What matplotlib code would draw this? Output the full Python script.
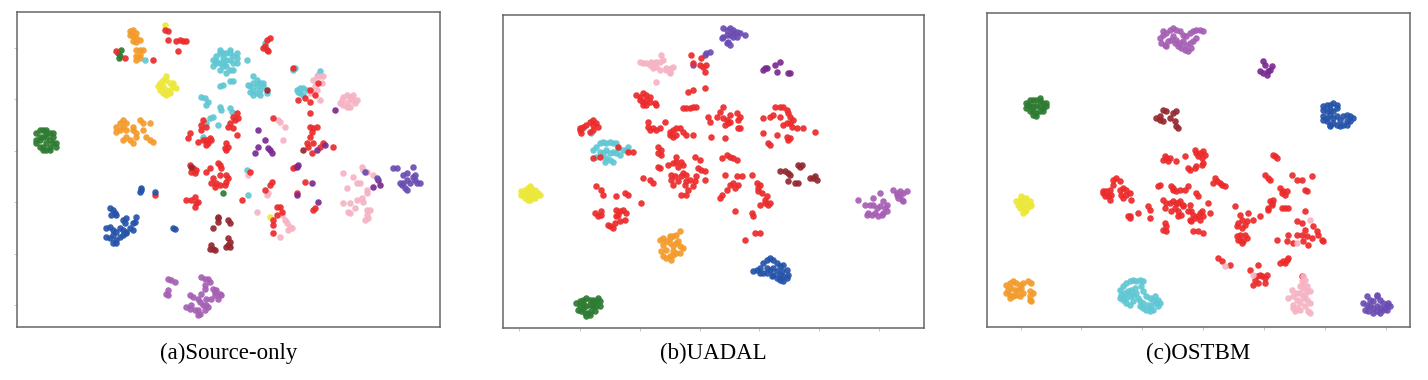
import matplotlib.pyplot as plt

# t-SNE embeddings (arbitrary units, y grows downward)
colors = {
    'green': '#2e7b32', 'orange': '#f39a2b', 'yellow': '#ece83a',
    'cyan': '#5fc7d3', 'red': '#ec2a2b', 'pink': '#f6b3c3',
    'violet': '#a55fb4', 'dpurple': '#7a2a90', 'indigo': '#6a4db3',
    'blue': '#2453a9', 'brown': '#94282f',
}
titles = ['(a)Source-only', '(b)UADAL', '(c)OSTBM']

# ---------------- (a) Source-only ----------------
a_green = [(11,40),(12,39),(13,39),(14,39),(15,40),(16,41),(11,42),(12,42),(13,41),(14,41),
           (15,42),(16,43),(17,44),(11,43),(12,44),(13,44),(14,43),(15,44),(13,45),(14,45),
           (15,45),(17,43),(12,41),(16,40),(14,40),
           (35.5,16),(36.5,15),(36,17),(35.8,17.5),(67,58)]
a_orange = [(39,9.5),(40,9),(41,10),(40,11),(39,10.5),(41,11.5),(40,12.5),(41,12.8),(42,12),
            (41,15),(42,15),(43,15),(41,17),(42,17.5),(41,18),(42,16.5),
            (35,38),(36,37),(37,36),(38,37),(37,38),(38,39),(36,39),(35,39.5),(42,36),(43,37),
            (45,37),(43,39),(41,40),(40,39),(41,41),(38,41),(37,42),(39,42),(40,43),(44,41),
            (45,42),(46,42.5),(40,38)]
a_yellow = [(49.5,7.5),(48,25),(49,24),(50,24),(51,25),(52,26),(49,26),(50,27),(51,27),(48,27),
            (49,28),(50,28.5),(52,25),(50,23),(47.5,26),(51,28),(53,26.5),(81,65)]
a_cyan = [(64,18),(65,17),(66,16),(67,16),(68,16),(69,16),(70,17),(71,16),(65,19),(66,19),
          (67,19),(68,18),(69,18),(70,19),(71,19),(64,20),(66,21),(67,20),(68,20),(69,21),
          (70,21),(74,18),(66,15),(69,15),(71,17.5),(65,18.5),(68,22),(67,17.5),
          (66,26),(67,25.5),(69,24.5),(70,24.5),
          (75,26),(76,25),(77,24),(77,26),(78,27),(79,26),(76,27),(77,28),(78,25),(79,25),
          (75,27.5),(76,28.5),(78,28.5),(80,28),(76,23),(74.5,25.5),(79.5,13),
          (88,21),(88.5,20.5),(89,27),(90,26.5),(91,26.5),(92,27),(90,28),(91,28.5),(89.5,27.5),
          (96,21.5),(95.5,22.5),
          (60.5,29),(61.5,29.5),(62,31.5),(62.5,30.5),(66,32),(66.5,33),(69,32.5),(69.5,33.5),
          (64,35),(63,35.5),(65.5,37.5),(62,37),(61,41),(74.5,58.5),(74,51),(43.5,18)]
a_red = [(35,15.5),(37.5,17.5),(46,18),(49.5,9),(50.5,9.5),(50.5,12),(53,12.5),(54,12),
         (55,12.5),(56,12.5),(53.5,15.5),(80,12),(81,11.5),(79.5,14),(79,14.5),(80,15),
         (80.5,15.5),(88,20.5),(89.5,30),(91.5,29.5),(93,30.5),(95.5,25),(93,27),(94.5,28.5),
         (61,36),(60.5,37.5),(62,38),(60.5,39),(70,35),(71,34),(70.5,36),(71.5,35.5),(69,37),
         (68.5,38),(70,38.5),(71,40.5),(57,40),(56.5,41.5),(59.5,42.5),(61,42),(62,42),
         (63,41.5),(62.5,43),(62,43.5),(63.5,42),(68,43),(68.5,44),(68,45),(67.5,44.5),
         (82,35.5),(93,34),(93,38),(94,38.5),(95,38),(93.5,39.5),(93,41),(92,43),(92.5,44),
         (94,43),(96,44),(97,43),(100,44),(93.5,46),
         (57,49.5),(58,50.5),(57.5,51.5),(58.5,52),(59,51),(62,51.5),(63,50.5),(65.5,49),
         (66,49.5),(66.5,50.5),(64,53.5),(63.5,55),(66,52.5),(68,52.5),(68.5,53.5),(68,54.5),
         (65,55),(66,55.5),(67.5,55.5),(64.5,56),(56,60),(57.5,60),(58.5,59),(59,61),
         (59.5,60.5),(58.5,62),(72.5,60),(75,51.5),(81.5,54.5),(81,55.5),(79.5,57),
         (83,62),(84,62),(84.5,63.5),(83,64.5),(82,66),(82,67.5),(82,70),(88.5,50),(88,50.5),
         (91.5,54.5),(89,58),(94.5,62.5),(94,63),(46.5,58.5)]
a_pink = [(94,24),(95,23),(96,23),(97,23),(96.5,25),(94.5,26),(93,28),(95,27),(96,30),(93.5,27.5),
          (103,29),(104,28.5),(105,29),(106,30),(106.5,31),(105,32),(104,32),(103,31.5),(102,31),
          (106,28.5),(107,30),(102.5,30),(104.5,30.5),(83.5,36),(84,36.5),(85.5,38),(85,42),
          (74.5,52.5),(77,63.5),(84.5,64.5),(85.5,66),(86,67),(87,68),(87.5,68.5),(86.5,69),
          (84,71),(80.5,58),(80,58.5),
          (103,52),(104,56.5),(108.5,50),(109,51),(110,51.5),(106,53),(107,55),(108,55),
          (110,57),(110,58),(103,61),(105,61),(106.5,62.5),(107,60),(108.5,59.5),(109,60.5),
          (105,64),(104.5,63.5),(110,63),(111,63),(110.5,65.5),(109.5,66),(110,64.5),(112,52.5)]
a_dpurple = [(77.5,39),(79.5,42),(77.5,44),(76.5,46),(81,45),(81.5,46),(80.5,44.5),
             (89,50),(89.5,49.5),(93.5,55),(89,58.5),(95.5,60.5),(97.5,43.5),(95,45),
             (100.5,33),(112,56),(113.5,54),(114,55.5)]
a_indigo = [(118,50.5),(119,50.5),(124,50),(121,52.5),(122,52),(124.5,52.5),(120,55),(121,55),
            (122,54),(123,55),(124.5,54),(125,55),(126,55),(121.5,56.5),(122,57),(120.5,55.5),
            (124,53),(113,53.5),(109.5,51.5)]
a_blue = [(33,62.5),(34,63),(34.5,64),(35,64.5),(33.5,64.5),(37,66),(38,65.5),(37.5,67),(41,65),
          (40.5,66.5),(40,67),(32,68.5),(33,68),(34,69),(35,69.5),(36,68.5),(37,69),(38,69.5),
          (39,68.5),(40,69),(32,71),(33,71.5),(34,70.5),(35,72),(36,71),(37,70.5),(34,73),
          (35,73),(38,70),(42,57.5),(42.5,56.5),(42.3,57),(46.5,57.5),(52,68.5),(52.5,68.8)]
a_brown = [(65.5,65.5),(65.5,66.5),(64,68.5),(68.5,66),(69,67),(63.5,73.5),(64,74.5),(68.5,71.5),
           (68.5,73.5),(69,74),(68,74),(63,74.5),(64.5,75),(69,72.5),(65.5,65),(80,27),(91,45),
           (57.5,50)]
a_violet = [(50.5,83.5),(51.5,84),(52.5,84.5),(50.5,87),(50,88),(50.5,88.5),(60.5,83),(61.5,83.5),
            (62.5,83.5),(63,84.5),(61.5,85.5),(61.5,86.5),(64,86.5),(65,87),(66,88),(64.5,88.5),
            (57,88.5),(58,89),(60.5,88),(59.5,89.5),(63.5,89.5),(65.5,89.5),(62,89.5),(60,90.5),
            (61,91.5),(62,91.5),(57.5,91.5),(56,92),(57,92.5),(58.5,93),(59.5,93),(61.5,93),
            (62.5,92),(60,94),(59.5,94.5),(64.5,87.5),(66.5,88.5)]

# ---------------- (b) UADAL ----------------
b_indigo = [(73,8.5),(74,9),(75,8.5),(76,9),(77,9.5),(78,10),(74,10.5),(75,10.5),(76,11),(77,11),
            (73,11),(72.5,11.5),(74.5,12.5),(75,13.5),(74,13),(79.5,10.5),(76,10),
            (67.5,16.5),(69,15.5),(68,16),(64,19.5)]
b_dpurple = [(85,21),(85.5,20.5),(86,20.5),(88.5,19.5),(90,18.5),(89,21.5),(92.5,22),(93,22)]
b_pink = [(48,18.5),(49,19),(50,19),(51,19.5),(52,19),(53,18.5),(54,18.5),(55,18),(54.5,16.5),
          (53,20),(54,21),(56,20.5),(57,21.5),(57.5,20.5),(58,20),(57,22),(53,24.5),(52,20.5),
          (56,21),(51.5,18.5)]
b_red = [(63.5,16.5),(64,19),(66,19.5),(67,20),(67.5,21.5),(68,19.5),(66.5,17.5),
         (62.5,27.5),(64,27),(67.5,26.5),
         (47,28.5),(48,29),(49,28),(50,28.5),(51,29),(48,30),(49,30.5),(50,30),(51,30.5),
         (49,31.5),(50,31.5),(52.5,31),(53,31.5),
         (61,32.5),(62,32.5),(63,32.5),(64,32),(65,32),
         (73,32),(72,33.5),(71,35),(68.5,35),(69,36.5),(73,35.5),(74,36),(75,34.5),(77,34),
         (78,35),(73.5,37.5),(74.5,37),(75,36.5),(77.5,36),(77.5,38.5),(78,38.5),(69.5,41),
         (73.5,41.5),
         (88.5,32),(90,32),(91,32),(92,33),(88,34.5),(90,35),(92.5,34),(93,35),(85,35.5),
         (87,35),(94,36),(92,37),(93,37),(91,37.5),(93.5,38),(95,38.5),(97,38.5),(100.5,39.5),
         (85,40),(89,40.5),(92,41),(93,41.5),(92.5,42),(86.5,43),(87,43.5),
         (30,38.5),(31,38),(32,37.5),(33,36.5),(34,36),(34,37.5),(35,37),(35.5,38),(34,39),
         (33,39.5),(30,39),(30.5,40),
         (34,47.5),(36,47),(41.5,44),(44.5,45.5),(46,45.5),
         (50.5,36.5),(50.5,38),(51,39),(52,38.5),(53,39),(54,38.5),(55.5,36.5),(57,39.5),
         (58,39),(59,38.5),(60,38.5),(57,40.5),(58,41),(59,40.5),(61,39.5),(62,40.5),(64,40.5),
         (53.5,44),(54.5,45),(53.5,46),(54.5,46.5),(53.5,50),(54,50.5),(56.5,49.5),(58,49),
         (59,47),(59,48.5),(59.5,50),(60.5,48.5),(61,49.5),(57.5,52.5),(58.5,53),(57.5,54),
         (58,55.5),(59.5,54.5),(60.5,53),(61,52),(62,52.5),(62,54.5),(63,54),(61.5,55.5),
         (62.5,57),(64,56),(64.5,54.5),(65,53),(66.5,51),(67.5,51.5),(66,48),(64.5,47),
         (65.5,50.5),(67.5,54),(60.5,58.5),(62,58.5),(49,53.5),(51,54),(52,55),
         (72.5,47.5),(74,46.5),(75,47),(76,47.5),(77,48),(73.5,52.5),(75,55.5),(76,55),
         (77,53),(77.5,55.5),(74,57),(72.5,58.5),(72,59.5),(76.5,56.5),(78.5,53),
         (81.5,52.5),(83,55),(83.5,56.5),(84,55.5),(83.5,57.5),(84.5,58),(86,59),(85.5,61),
         (84,61.5),(86.5,61.5),(87,61),(76.5,63.5),(81.5,64),(82,65),(79.5,72),(82.5,70),
         (84,70),(85.5,60),
         (35,56),(36.5,57),(37,58.5),(41,59),(43.5,58),(44.5,58.5),(48.5,61),(41,63),(42,63.5),
         (43,63),(44,64),(41.5,64.5),(34.5,64),(36.5,63.5),(35.5,65),(36.5,64.5),(43.5,66),
         (42,66.5),(40.5,67),(39,68),(40,68.5),(38.5,67.5),(41,65)]
b_cyan = [(31,38.5),(33.5,40),
          (34,45),(35,44),(36,43),(37,42.5),(38,43),(39,42.5),(40,43),(41,43),(41.5,44.5),
          (36,45.5),(37,46),(38,45),(39,46),(40,45.5),(41,46),(42,46.5),(35,47),(38,47.5),
          (39,48),(40,48.5),(37.5,48.5),(43,45),(44,45),(44.5,44)]
b_brown = [(90,51.5),(91.5,51.5),(92.5,52),(93,52.5),(95.5,49.5),(96,50),(96.5,49.5),(92.5,54.5),
           (94.5,55),(95.5,55),(99,53.5),(100,53.5),(100.5,53),(101,54)]
b_orange = [(54,72),(55,71.5),(56,72.5),(57,71.5),(58,71),(59,70.5),(60,69.5),(55,73.5),(57,73),
            (58,74),(59,73),(60,74),(54.5,75.5),(56,75),(58,75.5),(60,76),(61,74.5),(55,77),
            (56,77.5),(57,77),(58,76.5),(59,76),(57.5,78),(57,71),(59.5,72.5)]
b_blue = [(82,81.5),(83,81),(84,80.5),(85,79),(86,78),(87,77.5),(88,78),(89,79),(86,80.5),(87,81),
          (88,80.5),(89,81.5),(90,80),(91,79.5),(90.5,81.5),(92,81),(92.5,82.5),(91,83),(89,83.5),
          (90,84),(91,84.5),(88,82.5),(86,82),(85,82),(84,82),(87.5,83),(92,83.5),(90,82.5)]
b_violet = [(113.5,60),(115.5,61.5),(117,61.5),(118,59.5),(120,58),(121,60.5),(118,61.5),
            (119,62.5),(120,62),(121.5,62.5),(122,61.5),(121,64),(122,63.5),(116.5,64),
            (117.5,64.5),(118.5,64),(119.5,65),(120.5,64.5),(124,57),(125,58),(126,58.5),
            (127,58),(128,57.5),(125.5,59.5),(126.5,60),(127,60.5),(126,57.5),(125,58.5),(116,64.5)]
b_yellow = [(12.5,57.5),(13.5,57),(14.5,56.5),(15.5,56.5),(16.5,57),(17.5,58),(18,58.5),(13,58.5),
            (14,58),(15,58),(16,58),(17,58.5),(13.5,59.5),(14.5,59),(15.5,59.5),(16.5,59.5),
            (15,60),(15,56),(12.5,58.5),(14.5,60)]
b_green = [(29,91),(30,90.5),(31,90),(32,89.5),(33,90),(34,90),(35,90.5),(36,90.5),(30,92),
           (31,92.5),(32,92),(33,91.5),(34,92),(35,92),(29.5,93),(30.5,93.5),(31.5,94),(32.5,94),
           (33.5,93.5),(34.5,93.5),(32,95),(33,94.5),(35.5,89.5),(36,92),(31,91),(34,91)]

# ---------------- (c) OSTBM ----------------
c_violet = [(60,11.5),(61,10.5),(62,10),(63,9),(64,8.5),(65,9),(66,9.5),(67,10.5),(68,11),(69,10),
            (70,9.5),(71,9),(72,9),(73,9.5),(60.5,13),(61.5,13.5),(62.5,12.5),(63.5,12),(64,11),
            (65,12),(66,13),(67,12.5),(68,13.5),(69,13),(70,12.5),(71,11.5),(62,14),(64.5,13),
            (65.5,14),(66.5,14.5),(67.5,15),(69.5,14.5),(68.5,15.5),(61,9.5)]
c_dpurple = [(91,18.5),(91.5,19.5),(93.5,20),(93,21),(90,21.5),(91,22),(92,22.5),(92.5,21.5)]
c_green = [(20,31),(21,30),(22,30),(23,30),(24,30.5),(25,31),(26,32),(20,32.5),(21,32),(22,32),
           (23,32),(24,32),(25,32.5),(21,33.5),(22,33.5),(23,34),(24,33.5),(25,33.5),(22,34.5),
           (23,34.8),(20.5,31.5),(26,31),(24,29.5)]
c_brown = [(59,35.5),(60,35),(61,33),(62,33.5),(64,34),(65,33.5),(63,35.5),(64.5,36.5),(61,36.5),
           (65,38),(65.5,38.5),(60,36)]
c_blue = [(109,32),(110,31.5),(111,31.5),(112,31),(113,31.5),(109,33),(110,33.5),(111,33),
          (112,33.5),(113,32.5),(109,35),(110,35.5),(111,34.5),(112,35.5),(113,35),(114,36),
          (115,35),(116,34.5),(117,35),(118,35.5),(116,36.5),(110,36.5),(111,37.5),(112,37),
          (113,37.5),(114,38),(115,37.5),(116,37.5),(109,36),(117,36.5),(111,38)]
c_yellow = [(17,60.5),(18,60),(19,59.5),(20,59.5),(21,60.5),(21.5,61.5),(17.5,61.5),(18.5,61),
            (19.5,61),(20.5,61.5),(18,62.5),(19,62.5),(20,62.5),(21,62),(19.5,63.5),(20,63),
            (18.5,59),(19,64)]
c_orange = [(14,85.5),(15,85),(16,84.5),(17,85),(18,85.5),(19,85),(20.5,84.5),(14.5,87),(15.5,86.5),
            (16.5,87),(17.5,87),(18.5,86.5),(21.5,85),(14,88),(15,88.5),(16,89),(17,88.5),(18,89),
            (19,88),(21,87.5),(22,88),(21,89),(21,90),(21.5,90.5),(15,89.5)]
c_cyan = [(48,87),(49,86),(50,85),(51,84.5),(52,84),(53,84.5),(48.5,88.5),(49.5,88),(50.5,87.5),
          (51.5,87),(52.5,86.5),(48,89.5),(49,90),(50,89.5),(51,89),(52,88.5),(53,88),(50,91),
          (51,91.5),(52,90.5),(54,84),(55,84.5),(54.5,86),(55,87.5),(53.5,89.5),(54,90.5),
          (55,91),(56,89),(57,89.5),(56.5,91.5),(57.5,92),(58,90.5),(59,91),(59.5,92),(58,93),
          (57,93.5),(56,93),(55,92.5),(59.5,90),(60,91),(54,92),(58.5,89)]
c_pink = [(103,83),(102.5,84.5),(103.5,84),(102,86),(103,86.5),(104,86),(99.5,87),(101,88),
          (102,88),(103.5,88.5),(104,87.5),(105,87.5),(100,89),(98.5,89.5),(101,90),(102,91),
          (104,90),(105,91),(100,91.5),(101,92.5),(103.5,92),(102,93),(100.5,93.5),(105,94),
          (104.5,93.5),(103,85.5),(100,92.5),(103,89.5),(101,73),(88,82.5),(79.5,80),(105,66)]
c_indigo = [(122,89),(123,90),(124,90.5),(125,89),(126,90),(127,91),(128,91.5),(129,92),(121,91),
            (122,91.5),(123,92),(124,92.5),(125,92),(126,92.5),(127,93),(128,93),(121.5,93),
            (122.5,93.5),(124,94),(125,93.5),(126,94),(125,88.5),(127.5,92.5),(128.5,91)]
c_red = [(61,48),(62,47.5),(63,47.5),(61.5,47),(62.5,48.5),(65,48.5),(67.5,47),(70.5,45),(71,46),
         (72,46),(73,45.5),(73.5,46.5),(72.5,47.5),(71.5,47),(73,49),(72.5,49.5),(71,50),(69,51),
         (70.5,50.5),(68.5,50.5),(94.5,47),(94,46.5),(95,47.5),
         (46,54),(47,53.5),(48,54.5),(46,55.5),(43,58),(44,57.5),(43.5,59),(44.5,59),(45,60),
         (45.5,58.5),(48,57),(49,56.5),(50,57),(51,58),(48.5,58.5),(49,59.5),(50,58.5),
         (51.5,60),(45,57),(43,57.5),
         (51,65.5),(51,65),(53.5,64),(57,63),(56.5,62),(57,65.5),(50.5,65),
         (60,55.5),(59.5,56),(63.5,56),(64,57),(65,57.5),(64,56.5),(66,57),(67.5,57),(68.5,56),
         (71,58),(71.5,59),(61,60),(62,61),(63,61),(64,60.5),(65.5,61),(61.5,62.5),(67,62),
         (67,61.5),(64.5,62.5),(65,61),(66,60.5),(69,61.5),(68.5,63.5),(69.5,63.5),(70,64.5),
         (72,64),(73,65),(72.5,63.5),(74.5,61),(75,64),(65.5,65),(66.5,64.5),(65.5,63.5),
         (63.5,63.5),(69,66),(69.5,66.5),(71.5,65),(72,66),(70.5,65.5),(70,69.5),(71.5,69.5),
         (73,70),(61.5,67),(62,68),(61,69),(62,69.5),
         (76.5,53.5),(77,54.5),(78,55),(78.5,55.5),(79.5,56),(76,55),
         (82.5,62),(84,64.5),(86.5,64),(88,66),(86,66.5),(84.5,66),(83.5,67),(83,68),(84.5,68.5),
         (85.5,67.5),(90,65),(83,71),(84,72),(85,72.5),(83.5,72),(84,70.5),(86,71.5),(85.5,70.5),
         (84.5,73),
         (91.5,52.5),(92.5,53.5),(93,54),(99.5,52.5),(101,54),(102.5,54),(105.5,53),(103.5,57),
         (96,56.5),(97,57.5),(96.5,58),(97.5,58.5),(98,57.5),(104,57.5),(94,60),(93,60.5),
         (93.5,61),(92.5,62.5),(93.5,61.5),(92.5,63),(96.5,62.5),(97.5,62.5),(98.5,62.5),
         (103.5,63.5),
         (101,66.5),(102.5,67),(103.5,69),(106,68),(107,69.5),(107.5,70.5),(108.5,72),(109,72.5),
         (105.5,71.5),(104,71),(102.5,70.5),(101,70.5),(98.5,70.5),(95,72),(98,72.5),(100,73),
         (104.5,73.5),(103,72.5),
         (77.5,77.5),(78.5,78.5),(81,79.5),(87,81),(89.5,79.5),(90,82.5),(89,83),(90.5,83),
         (91.5,83.5),(92,82.5),(89.5,85),(91.5,85),(88,85.5),(88.5,84),(96,79),(97,78.5),
         (98,78),(98.5,77.5),(97.5,79),(102.5,83)]

panels = [
    [(a_green, 'green'), (a_orange, 'orange'), (a_yellow, 'yellow'), (a_cyan, 'cyan'),
     (a_pink, 'pink'), (a_red, 'red'), (a_dpurple, 'dpurple'), (a_indigo, 'indigo'),
     (a_blue, 'blue'), (a_brown, 'brown'), (a_violet, 'violet')],
    [(b_indigo, 'indigo'), (b_dpurple, 'dpurple'), (b_pink, 'pink'), (b_cyan, 'cyan'),
     (b_red, 'red'), (b_brown, 'brown'), (b_orange, 'orange'), (b_blue, 'blue'),
     (b_violet, 'violet'), (b_yellow, 'yellow'), (b_green, 'green')],
    [(c_violet, 'violet'), (c_dpurple, 'dpurple'), (c_green, 'green'), (c_brown, 'brown'),
     (c_blue, 'blue'), (c_yellow, 'yellow'), (c_orange, 'orange'), (c_cyan, 'cyan'),
     (c_red, 'red'), (c_pink, 'pink'), (c_indigo, 'indigo')],
]
xlims = [(5.2, 132.0), (7.0, 133.2), (8.2, 135.0)]
ylims = [(98.0, 3.7), (98.5, 4.5), (98.2, 4.0)]
xticks = [[], [11.8, 30, 48.2, 66, 83.8, 101.8, 119.8], [18.5, 36.5, 54.8, 73, 91.2, 109.5, 127.8]]
yticks = [[14.5, 29.8, 45.2, 60.7, 76.2, 91.5], [], []]

# axes boxes in figure pixels (left, top, right, bottom)
boxes = [(17, 12, 440, 327), (503, 15, 924, 328), (987, 13, 1410, 327)]

W, H = 1428, 380
fig = plt.figure(figsize=(W / 100, H / 100), dpi=100)

for k in range(3):
    l, t, r, b = boxes[k]
    ax = fig.add_axes([l / W, 1 - b / H, (r - l) / W, (b - t) / H])
    for pts, c in panels[k]:
        xs = [p[0] for p in pts]
        ys = [p[1] for p in pts]
        ax.scatter(xs, ys, s=22, color=colors[c], alpha=0.92, linewidths=0)
    ax.set_xlim(*xlims[k])
    ax.set_ylim(*ylims[k])
    ax.set_xticks(xticks[k])
    ax.set_yticks(yticks[k])
    ax.set_xticklabels([])
    ax.set_yticklabels([])
    ax.tick_params(length=2, width=0.6, color='#bbbbbb')
    for sp in ax.spines.values():
        sp.set_color('#666666')
        sp.set_linewidth(1.1)
    fig.text((l + r) / 2 / W, 1 - 353 / H, titles[k], ha='center', va='center',
             fontsize=16.5, family='Liberation Serif')

plt.savefig('out.png', dpi=100)
